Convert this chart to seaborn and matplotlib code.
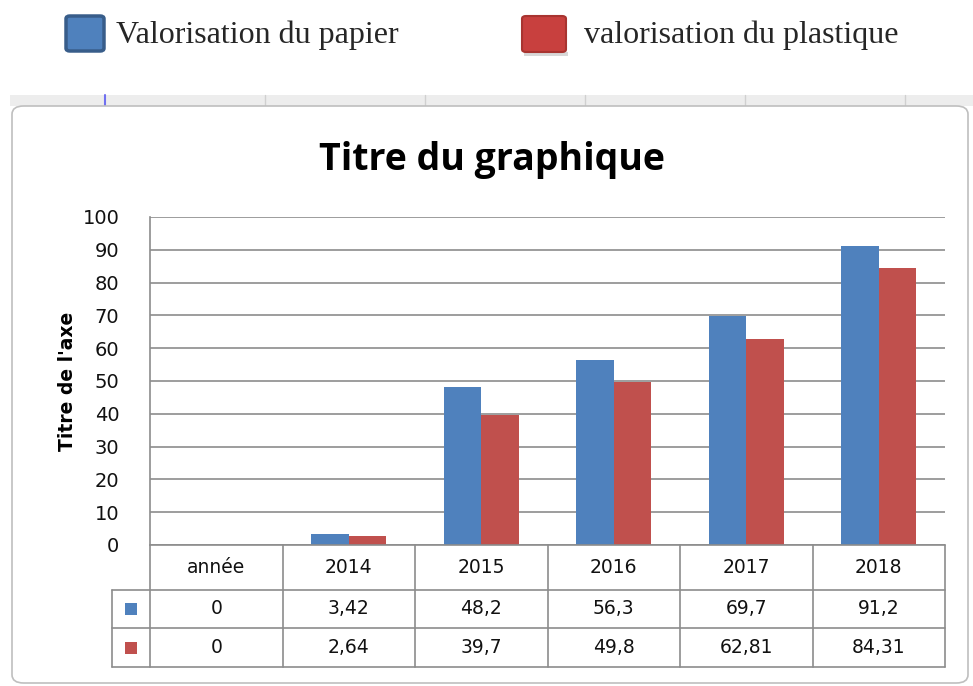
import matplotlib
matplotlib.use("Agg")
import matplotlib.pyplot as plt
import seaborn as sns
import pandas as pd
from matplotlib.patches import FancyBboxPatch, Rectangle
from matplotlib.lines import Line2D

# ---- data ----
categories = ["année", "2014", "2015", "2016", "2017", "2018"]
papier = [0, 3.42, 48.2, 56.3, 69.7, 91.2]
plastique = [0, 2.64, 39.7, 49.8, 62.81, 84.31]
series_names = ["Valorisation du papier", "valorisation du plastique"]
yticks = [0, 10, 20, 30, 40, 50, 60, 70, 80, 90, 100]

BLUE = "#4F81BD"
RED = "#C0504D"
GRID = "#8C8C8C"

df = pd.DataFrame({
    "cat": categories * 2,
    "val": papier + plastique,
    "serie": [series_names[0]] * len(categories) + [series_names[1]] * len(categories),
})

sns.set_style("white")
plt.rcParams["font.family"] = ["DejaVu Sans"]

W, H = 973, 686
fig = plt.figure(figsize=(W / 100, H / 100), dpi=100)

def fx(x):
    return x / W

def fy(y):
    return 1 - y / H

# spreadsheet strip behind chart
fig.add_artist(Rectangle((fx(10), fy(106)), fx(963), 11 / H, transform=fig.transFigure,
                         facecolor="#EDEDED", edgecolor="none", zorder=-3))
for xx in [265, 425, 585, 745, 905]:
    fig.add_artist(Line2D([fx(xx), fx(xx)], [fy(106), fy(95)], transform=fig.transFigure,
                          color="#D0D0D0", lw=1, zorder=-3))
fig.add_artist(Line2D([fx(105), fx(105)], [fy(106), fy(95)], transform=fig.transFigure,
                      color="#7070F0", lw=1.5, zorder=-3))

# chart frame
frame = FancyBboxPatch((fx(12), fy(683)), fx(956), (683 - 106) / H,
                       boxstyle="round,pad=0,rounding_size=0.012",
                       transform=fig.transFigure, facecolor="white",
                       edgecolor="#BFBFBF", lw=1.2, zorder=-2)
fig.add_artist(frame)

# top legend (document text)
fig.add_artist(FancyBboxPatch((fx(66), fy(51)), fx(38), 35 / H,
                              boxstyle="round,pad=0,rounding_size=0.004",
                              transform=fig.transFigure, facecolor=BLUE,
                              edgecolor="#385D8A", lw=2.5, zorder=2))
fig.text(fx(116), fy(35), series_names[0], fontsize=23, family="Liberation Serif",
         va="center", ha="left")
fig.add_artist(Rectangle((fx(524), fy(56)), fx(44), 4 / H, transform=fig.transFigure,
                         facecolor="#D8D8D8", edgecolor="none", zorder=1))
fig.add_artist(FancyBboxPatch((fx(522), fy(52)), fx(44), 36 / H,
                              boxstyle="round,pad=0,rounding_size=0.004",
                              transform=fig.transFigure, facecolor="#C8403E",
                              edgecolor="#A83430", lw=1.5, zorder=2))
fig.text(fx(584), fy(35), series_names[1], fontsize=23, family="Liberation Serif",
         va="center", ha="left")

# title
fig.text(fx(492), fy(160), "Titre du graphique", fontsize=27, fontweight="bold",
         family="Open Sans", ha="center", va="center", color="black")

# plot axes
ax = fig.add_axes([fx(150), fy(545), fx(945 - 150), (545 - 217) / H])
ax.set_facecolor("none")
sns.barplot(data=df, x="cat", y="val", hue="serie", order=categories,
            hue_order=series_names, palette=[BLUE, RED], width=0.566,
            saturation=1, ax=ax, legend=False, edgecolor="none")
ax.set_xlim(-0.5, len(categories) - 0.5)
ax.set_ylim(0, 100)
ax.set_yticks(yticks)
ax.set_yticklabels([str(t) for t in yticks], fontsize=14, color="#111111")
ax.tick_params(axis="y", length=0, pad=22)
ax.tick_params(axis="x", length=0, labelbottom=False)
ax.set_xlabel("")
ax.set_ylabel("Titre de l'axe", fontsize=13.5, fontweight="bold", labelpad=4,
              color="black")
ax.yaxis.grid(True, color=GRID, lw=1.2)
ax.set_axisbelow(True)
for s in ["top", "right", "bottom"]:
    ax.spines[s].set_visible(False)
ax.spines["left"].set_color(GRID)
ax.spines["left"].set_linewidth(1.2)

# data table below the plot (x in data units, y in axes units)
tr = ax.get_xaxis_transform()
ph = 545 - 217
r0, r1, r2, r3 = 0, -(590 - 545) / ph, -(628 - 545) / ph, -(667 - 545) / ph
xl, xr = -0.5, len(categories) - 0.5
xk = -0.5 - 38 / 132.5
tkw = dict(transform=tr, clip_on=False, color=GRID, lw=1.2)
ax.plot([xl, xr], [r0, r0], **tkw)
for yy in [r1, r2, r3]:
    ax.plot([xk, xr], [yy, yy], **tkw)
for i in range(len(categories) + 1):
    ax.plot([i - 0.5, i - 0.5], [r0, r3], **tkw)
ax.plot([xk, xk], [r1, r3], **tkw)

def fmt(v):
    return f"{v:g}".replace(".", ",")

tfont = dict(fontsize=13.5, ha="center", va="center", transform=tr, clip_on=False,
             color="#111111")
for i, c in enumerate(categories):
    ax.text(i, (r0 + r1) / 2, c, **tfont)
    ax.text(i, (r1 + r2) / 2, fmt(papier[i]), **tfont)
    ax.text(i, (r2 + r3) / 2, fmt(plastique[i]), **tfont)

kx = (xk + xl) / 2
for (ya, yb), col in [((r1, r2), BLUE), ((r2, r3), RED)]:
    yc = (ya + yb) / 2
    ax.add_patch(Rectangle((kx - 0.045, yc - 6 / ph), 0.09, 12 / ph, transform=tr,
                           clip_on=False, facecolor=col, edgecolor="none"))

fig.savefig("out.png", dpi=100)
